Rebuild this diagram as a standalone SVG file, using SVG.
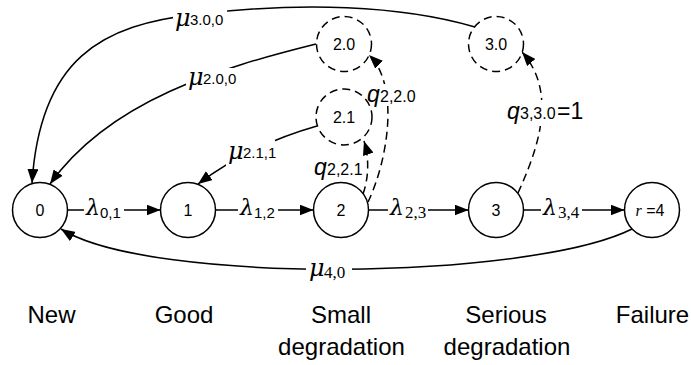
<svg xmlns="http://www.w3.org/2000/svg" width="691" height="365" viewBox="0 0 691 365">
<style>
.node{fill:#fff;stroke:#000;stroke-width:1.5}
.dnode{fill:#fff;stroke:#000;stroke-width:1.5;stroke-dasharray:8 5}
.nl{font-family:"Liberation Sans",Arial,sans-serif;font-size:16px;text-anchor:middle;fill:#000}
.e{fill:none;stroke:#000;stroke-width:1.5}
.de{fill:none;stroke:#000;stroke-width:1.5;stroke-dasharray:8 5}
.bg{fill:#fff}
.lam{font-family:"DejaVu Serif","Liberation Serif",serif;font-style:italic;font-size:22px;fill:#000}
.mu{font-family:"DejaVu Serif","Liberation Serif",serif;font-style:italic;font-size:24px;fill:#000}
.subsans{font-family:"Liberation Sans",Arial,sans-serif;font-size:15px;fill:#000}
.subserif{font-family:"Liberation Serif","Times New Roman",serif;font-size:17px;fill:#000}
.q{font-family:"Liberation Sans",Arial,sans-serif;font-style:italic;font-size:23px;fill:#000}
.qs{font-family:"Liberation Sans",Arial,sans-serif;font-size:16px;fill:#000}
.eq{font-family:"Liberation Sans",Arial,sans-serif;font-size:23px;fill:#000}
.cap{font-family:"Liberation Sans",Arial,sans-serif;font-size:24px;text-anchor:middle;fill:#000}
</style>
<defs>
<marker id="arr" viewBox="0 0 14 11" refX="14" refY="5.5" markerWidth="14" markerHeight="11" orient="auto" markerUnits="userSpaceOnUse">
<path d="M0,0 L14,5.5 L0,11 z" fill="#000"/>
</marker>
</defs>
<g id="connectors">
<path class="e" d="M67.5,210 H160.5" marker-end="url(#arr)"/>
<path class="e" d="M215.5,210 H313.5" marker-end="url(#arr)"/>
<path class="e" d="M368.5,210 H468.5" marker-end="url(#arr)"/>
<path class="e" d="M523.5,210 H624.5" marker-end="url(#arr)"/>
<path class="e" d="M632,229 C530,280 150,285 61,229" marker-end="url(#arr)"/>
<path class="e" d="M475,27 C400,5 300,2 200,14 C100,24 40,60 32,183" marker-end="url(#arr)"/>
<path class="e" d="M316,44 C220,68 110,100 50,184" marker-end="url(#arr)"/>
<path class="e" d="M317,126 Q250,145 198,184" marker-end="url(#arr)"/>
<path class="de" d="M363,194 C368,180 370,160 364,141" marker-end="url(#arr)"/>
<path class="de" d="M368,202 C388,160 400,85 369,55" marker-end="url(#arr)"/>
<path class="de" d="M518,193 C535,155 560,95 522,52" marker-end="url(#arr)"/>
</g>
<g id="edge-labels">
<rect class="bg" x="84" y="196" width="40" height="26"/>
<text x="86" y="215"><tspan class="lam">λ</tspan><tspan class="subsans" x="100" y="218">0,1</tspan></text>
<rect class="bg" x="238" y="196" width="40" height="26"/>
<text x="240" y="215"><tspan class="lam">λ</tspan><tspan class="subsans" x="254" y="218">1,2</tspan></text>
<rect class="bg" x="388" y="196" width="40" height="26"/>
<text x="390" y="215"><tspan class="lam">λ</tspan><tspan class="subserif" x="405" y="218">2,3</tspan></text>
<rect class="bg" x="541" y="196" width="41" height="26"/>
<text x="543" y="215"><tspan class="lam">λ</tspan><tspan class="subserif" x="558" y="218">3,4</tspan></text>
<rect class="bg" x="306" y="258" width="46" height="24"/>
<text x="309" y="276"><tspan class="mu">μ</tspan><tspan class="subserif" x="324" y="278">4,0</tspan></text>
<rect class="bg" x="173" y="5" width="54" height="27"/>
<text x="175" y="26"><tspan class="mu">μ</tspan><tspan class="subsans" x="190" y="25">3.0,0</tspan></text>
<rect class="bg" x="186" y="68" width="53" height="26"/>
<text x="188" y="85"><tspan class="mu">μ</tspan><tspan class="subsans" x="203" y="84">2.0,0</tspan></text>
<rect class="bg" x="226" y="140" width="49" height="26"/>
<text x="228" y="159"><tspan class="mu">μ</tspan><tspan class="subsans" x="243" y="158">2.1,1</tspan></text>
<rect class="bg" x="366" y="84" width="53" height="22"/>
<text x="367" y="102"><tspan class="q">q</tspan><tspan class="qs" x="380" y="102">2,2.0</tspan></text>
<text x="314" y="175"><tspan class="q">q</tspan><tspan class="qs" x="327" y="175">2,2.1</tspan></text>
<rect class="bg" x="506" y="100" width="78" height="26"/>
<text x="507" y="119"><tspan class="q">q</tspan><tspan class="qs" x="520" y="119">3,3.0</tspan><tspan class="eq" x="557" y="119">=1</tspan></text>
</g>
<g id="n0"><circle class="node" cx="40" cy="210" r="27.5"/><text class="nl" x="40" y="216">0</text></g>
<g id="n1"><circle class="node" cx="188" cy="210" r="27.5"/><text class="nl" x="188" y="216">1</text></g>
<g id="n2"><circle class="node" cx="341" cy="210" r="27.5"/><text class="nl" x="341" y="216">2</text></g>
<g id="n3"><circle class="node" cx="496" cy="210" r="27.5"/><text class="nl" x="496" y="216">3</text></g>
<g id="n4"><circle class="node" cx="652" cy="210" r="27.5"/><text class="nl" x="650" y="216"><tspan style="font-family:'Liberation Serif','Times New Roman',serif;font-style:italic">r</tspan> =4</text></g>
<g id="n2_0"><circle class="dnode" cx="344" cy="44" r="27.5"/><text class="nl" x="344" y="50">2.0</text></g>
<g id="n2_1"><circle class="dnode" cx="344" cy="117" r="28"/><text class="nl" x="344" y="123">2.1</text></g>
<g id="n3_0"><circle class="dnode" cx="496" cy="44" r="27.5"/><text class="nl" x="496" y="50">3.0</text></g>
<g id="captions">
<text class="cap" x="51.5" y="323">New</text>
<text class="cap" x="184" y="323">Good</text>
<text class="cap" x="341" y="323">Small</text>
<text class="cap" x="341.5" y="355">degradation</text>
<text class="cap" x="506" y="323">Serious</text>
<text class="cap" x="507" y="355">degradation</text>
<text class="cap" x="652.5" y="323">Failure</text>
</g>
</svg>
